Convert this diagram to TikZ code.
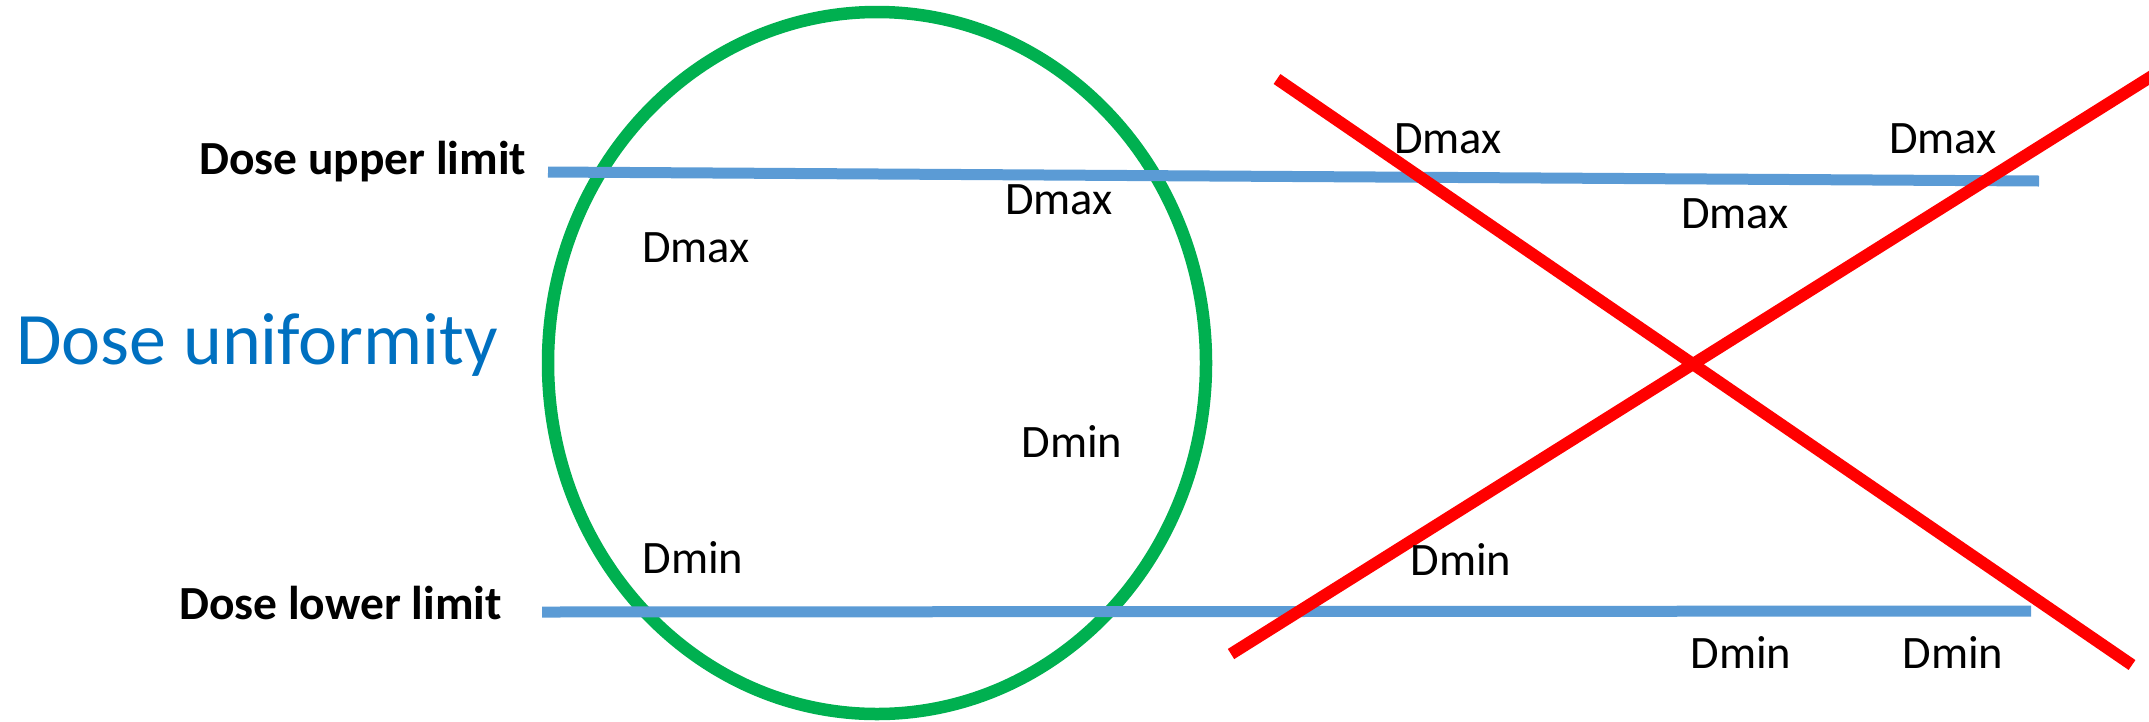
\documentclass[tikz,border=0pt]{standalone}
\usepackage{fontspec}
\setmainfont{Carlito}
\definecolor{ringgreen}{HTML}{00B050}
\definecolor{limitblue}{HTML}{5B9BD5}
\definecolor{crossred}{HTML}{FF0000}
\definecolor{titleblue}{HTML}{0070C0}
\tikzset{
  limitlabel/.style={inner sep=0pt, anchor=base west, font=\fontsize{47.5}{56}\selectfont\bfseries},
  dlabel/.style={inner sep=0pt, anchor=center, font=\fontsize{46.5}{56}\selectfont},
  ring/.style={draw=ringgreen, line width=12.5pt},
  limitline/.style={draw=limitblue, line width=11pt},
  crossline/.style={draw=crossred, line width=12pt}
}
\begin{document}
\begin{tikzpicture}[x=1pt,y=-1pt]
\useasboundingbox (0,0) rectangle (2149,721);
% ring
\draw[ring] (877,363) ellipse [x radius=329, y radius=351];
% limit lines
\coordinate (ua) at (548,172);
\coordinate (ub) at (2039,181);
\coordinate (la) at (542,612);
\coordinate (lb) at (2031,611);
\draw[limitline] (ua) -- (ub);
\draw[limitline] (la) -- (lb);
% cross
\coordinate (r1a) at (1277,79);
\coordinate (r1b) at (2132,665);
\coordinate (r2a) at (1231,654);
\coordinate (r2b) at (2160,71);
\draw[crossline] (r1a) -- (r1b);
\draw[crossline] (r2a) -- (r2b);
% texts
\node[limitlabel] (upper) at (199,174) {Dose upper limit};
\node[limitlabel] (lower) at (179,619) {Dose lower limit};
\node[inner sep=0pt, anchor=base west, text=titleblue, font=\fontsize{74}{88}\selectfont] (title) at (16,364) {Dose uniformity};
\node[dlabel] (mx1) at (696,248) {Dmax};
\node[dlabel] (mx2) at (1059,200) {Dmax};
\node[dlabel] (mx3) at (1448,139) {Dmax};
\node[dlabel] (mx4) at (1943,139) {Dmax};
\node[dlabel] (mx5) at (1735,214) {Dmax};
\node[dlabel] (mn1) at (1072,441) {Dmin};
\node[dlabel] (mn2) at (693,557) {Dmin};
\node[dlabel] (mn3) at (1461,559) {Dmin};
\node[dlabel] (mn4) at (1741,652) {Dmin};
\node[dlabel] (mn5) at (1953,652) {Dmin};
\end{tikzpicture}
\end{document}
